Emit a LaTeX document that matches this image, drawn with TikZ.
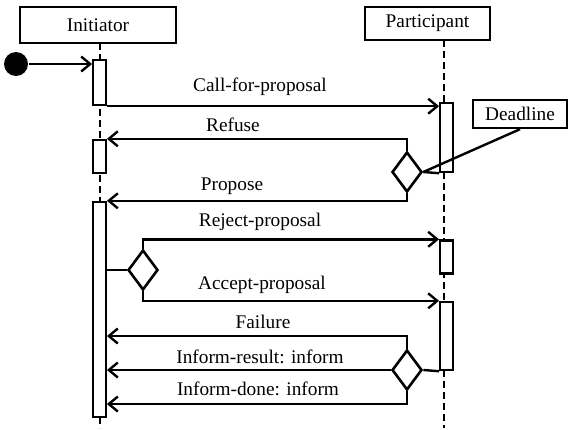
\documentclass[tikz,border=0pt]{standalone}
\usepackage{fontspec}
\setmainfont{Liberation Serif}
\usetikzlibrary{arrows.meta,positioning,shapes.geometric}
\tikzset{
  lbl/.style={font=\fontsize{19.3}{22}\selectfont},
  headbox/.style={draw, line width=2.4pt, inner sep=0pt, lbl},
  actbar/.style={draw, line width=2.4pt, fill=white, minimum width=12.5pt, inner sep=0pt},
  choice/.style={draw, diamond, line width=2.6pt, fill=white, minimum width=30pt, minimum height=40pt, inner sep=0pt},
  lifeline/.style={line width=2.2pt, dash pattern=on 7pt off 4pt},
  msg/.style={line width=2.4pt, -{Straight Barb[length=9pt,width=15pt]}}
}

\begin{document}
\begin{tikzpicture}[x=1pt,y=-1pt,line width=2.4pt]
\useasboundingbox (0,0) rectangle (569,429);
% Roles and lifelines
\node[headbox, minimum width=156pt, minimum height=36pt] (ini) at (98,25) {Initiator};
\node[headbox, minimum width=125pt, minimum height=33pt] (par) at (427.5,23.5) {Participant};
\coordinate (iniTop) at (100,43);
\coordinate (iniEnd) at (100,428);
\coordinate (parTop) at (444,40);
\coordinate (parEnd) at (444,428);
\draw[lifeline] (iniTop) -- (iniEnd);
\draw[lifeline] (parTop) -- (parEnd);
% Activation bars
\node[actbar, minimum height=45pt] (a1) at (99.5,82.5) {};
\node[actbar, minimum height=33pt] (a2) at (99.5,156.5) {};
\node[actbar, minimum height=215pt] (a3) at (99.5,309.5) {};
\node[actbar, minimum height=69pt] (p1) at (446.5,137.5) {};
\node[actbar, minimum height=33pt] (p2) at (446.5,257) {};
\node[actbar, minimum height=68pt] (p3) at (446.5,336) {};
% Decisions
\node[choice] (d1) at (407,172) {};
\node[choice] (d2) at (143,270) {};
\node[choice] (d3) at (407,370) {};
\node[headbox, minimum width=94pt, minimum height=28pt] (dl) at (520,114) {Deadline};
% Start
\node[circle, fill, minimum size=24pt, inner sep=0pt] (start) at (16,64) {};
\draw[msg] (start) -- (start -| a1.west);
% Messages
\draw[msg] (a1.south east) -- (a1.south east -| p1.west);
\draw[msg] (d1.north) -- (d1.north |- a2.north) -- (a2.north east);
\draw (d1.east) -- (p1.south west);
\draw (dl.south) -- (d1.east);
\draw[msg] (d1.south) -- (d1.south |- a3.north) -- (a3.north east);
\draw (a3.east |- d2.west) -- (d2.west);
\draw[msg] (d2.north) -- (d2.north |- p2.north) -- (p2.north west);
\draw[msg] (d2.south) -- (d2.south |- p3.north) -- (p3.north west);
\coordinate (yFail) at (0,336);
\coordinate (yDone) at (0,404);
\draw[msg] (d3.north) -- (d3.north |- yFail) -- (yFail -| a3.east);
\draw (d3.east) -- (p3.south west);
\draw[msg] (d3.west) -- (d3.west -| a3.east);
\draw[msg] (d3.south) -- (d3.south |- yDone) -- (yDone -| a3.east);
% Message labels
\node[lbl] (lCall) at (260,87) {Call-for-proposal};
\node[lbl] (lRefuse) at (233,125) {Refuse};
\node[lbl] (lPropose) at (232,186) {Propose};
\node[lbl] (lReject) at (260,222) {Reject-proposal};
\node[lbl] (lAccept) at (262,285) {Accept-proposal};
\node[lbl] (lFail) at (263,322) {Failure};
\node[lbl] (lResult) at (260,357) {Inform-result: inform};
\node[lbl] (lDone) at (258,389) {Inform-done: inform};
\end{tikzpicture}
\end{document}
